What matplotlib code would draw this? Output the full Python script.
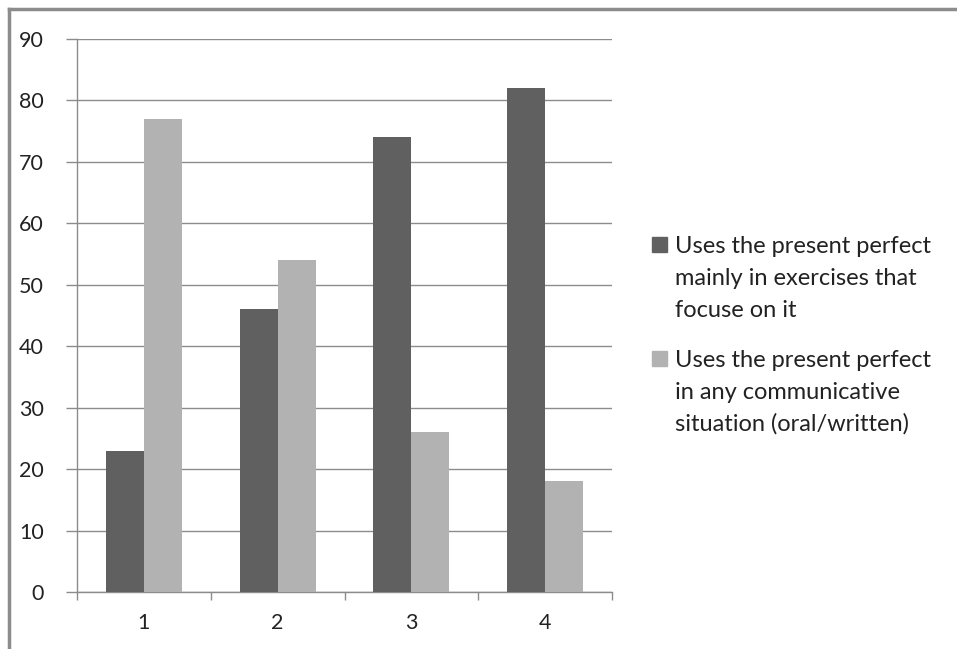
import matplotlib.pyplot as plt
from matplotlib.lines import Line2D
from matplotlib.patches import Rectangle
import numpy as np

categories = ["1", "2", "3", "4"]
exercises = [23, 46, 74, 82]
communicative = [77, 54, 26, 18]
labels = [["Uses the present perfect", "mainly in exercises that", "focuse on it"],
          ["Uses the present perfect", "in any communicative", "situation (oral/written)"]]
dark = "#606060"
light = "#b2b2b2"
grey = "#8c8c8c"

plt.rcParams['font.family'] = ['Lato', 'DejaVu Sans']

W, H = 957, 649
fig = plt.figure(figsize=(W / 100, H / 100), dpi=100)
ax = fig.add_axes([77 / W, 1 - 592 / H, 535 / W, 553 / H])

x = np.arange(1, len(categories) + 1)
w = 38 / 133.75
b1 = ax.bar(x - w / 2, exercises, w, color=dark, zorder=3)
b2 = ax.bar(x + w / 2, communicative, w, color=light, zorder=3)

ax.set_xlim(0.5, 4.5)
ax.set_ylim(0, 90)
ax.set_yticks(range(0, 91, 10))
ax.set_xticks(x)
ax.set_xticklabels(categories)
ax.set_xticks([0.5, 1.5, 2.5, 3.5, 4.5], minor=True)
ax.tick_params(axis='x', which='major', length=0, pad=15, labelsize=15.5, labelcolor="#222222")
ax.tick_params(axis='x', which='minor', length=6, color=grey, width=1)
ax.tick_params(axis='y', length=8, color=grey, width=1, pad=16, labelsize=15.5, labelcolor="#222222")
ax.grid(axis='y', color=grey, linewidth=1, zorder=0)
for s in ['top', 'right']:
    ax.spines[s].set_visible(False)
for s in ['left', 'bottom']:
    ax.spines[s].set_color(grey)
    ax.spines[s].set_linewidth(1)

# legend, Excel style: swatch next to the first line of each entry
for i, (lines, col) in enumerate(zip(labels, [dark, light])):
    y0 = 253 + i * 114
    fig.add_artist(Rectangle((652 / W, 1 - (y0 - 1) / H), 15 / W, 15 / H,
                             transform=fig.transFigure, color=col))
    for j, line in enumerate(lines):
        fig.text(675 / W, 1 - (y0 + j * 32) / H, line, fontsize=17, va='baseline',
                 ha='left', color="#222222")

# outer border (top and left edges visible)
fig.add_artist(Line2D([9 / W, 9 / W], [0, 1 - 9 / H], color=grey, linewidth=2.5,
                      transform=fig.transFigure))
fig.add_artist(Line2D([9 / W, 1], [1 - 9 / H, 1 - 9 / H], color=grey, linewidth=2.5,
                      transform=fig.transFigure))

fig.savefig("out.png", dpi=100)
